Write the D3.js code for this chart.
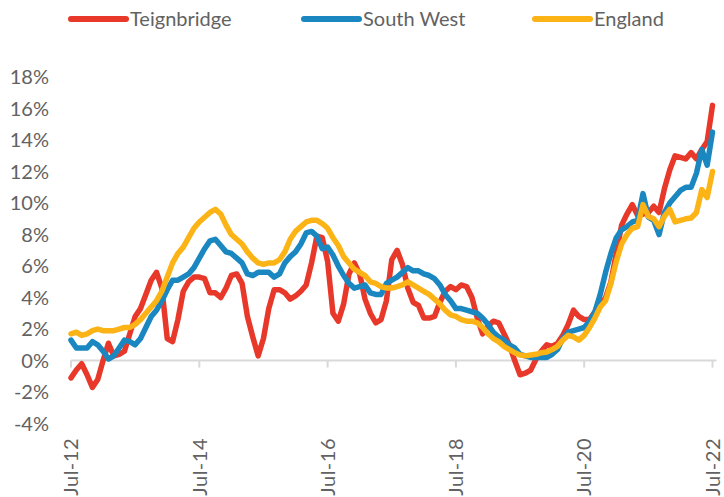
<!DOCTYPE html>
<html>
<head>
<meta charset="utf-8">
<script src="https://cdn.jsdelivr.net/npm/d3@7"></script>
<style>
  body { margin: 0; background: #fff; }
  svg { font-family: Lato, "Open Sans", sans-serif; }
</style>
</head>
<body>
<div id="chart"></div>
<script>
// monthly annual change, Jul-12 .. Jul-22 (121 months)
const tickLabels = ["Jul-12", "Jul-14", "Jul-16", "Jul-18", "Jul-20", "Jul-22"];
const tickIndex = [0, 24, 48, 72, 96, 120];
const yTicks = [-4, -2, 0, 2, 4, 6, 8, 10, 12, 14, 16, 18];

const teignbridge = [
  -1.1, -0.6, -0.2, -0.9, -1.7, -1.2, 0.0, 1.1, 0.3, 0.4, 0.6, 1.7,
  2.8, 3.3, 4.2, 5.1, 5.6, 4.6, 1.4, 1.2, 2.6, 4.4, 5.0, 5.3,
  5.3, 5.2, 4.3, 4.3, 4.0, 4.6, 5.4, 5.5, 4.9, 2.8, 1.5, 0.3,
  1.4, 3.3, 4.5, 4.5, 4.3, 3.9, 4.1, 4.4, 4.8, 6.2, 7.9, 7.8,
  6.3, 3.0, 2.5, 3.6, 5.5, 6.2, 5.5, 3.9, 3.0, 2.4, 2.6, 3.8,
  6.4, 7.0, 6.1, 4.6, 3.7, 3.5, 2.7, 2.7, 2.8, 3.7, 4.4, 4.7,
  4.5, 4.8, 4.7, 4.0, 2.7, 1.7, 2.2, 2.5, 2.4, 1.7, 1.0, 0.0,
  -0.9, -0.8, -0.6, 0.1, 0.6, 1.0, 0.9, 1.1, 1.6, 2.3, 3.2, 2.8,
  2.6, 2.6, 3.1, 3.5, 4.0, 5.0, 6.8, 8.6, 9.3, 9.9, 9.2, 9.3,
  9.4, 9.8, 9.4, 10.9, 12.1, 13.0, 12.9, 12.8, 13.2, 12.8, 13.4, 13.9,
  16.2
];

const southWest = [
  1.3, 0.8, 0.8, 0.8, 1.2, 1.0, 0.6, 0.1, 0.3, 0.8, 1.3, 1.2,
  1.0, 1.4, 2.1, 2.8, 3.2, 3.8, 4.5, 5.1, 5.1, 5.3, 5.5, 5.9,
  6.5, 7.1, 7.6, 7.7, 7.3, 6.9, 6.8, 6.5, 6.2, 5.5, 5.4, 5.6,
  5.6, 5.6, 5.3, 5.5, 6.2, 6.6, 6.9, 7.4, 8.1, 8.2, 7.9, 7.1,
  7.2, 6.7, 6.0, 5.4, 4.9, 4.6, 4.7, 4.8, 4.3, 4.2, 4.2, 4.9,
  5.1, 5.3, 5.6, 5.9, 5.7, 5.7, 5.5, 5.4, 5.2, 4.8, 4.2, 3.8,
  3.3, 3.3, 3.2, 3.1, 3.0, 2.7, 2.3, 1.8, 1.5, 1.3, 1.0, 0.8,
  0.4, 0.3, 0.2, 0.2, 0.2, 0.2, 0.4, 0.7, 1.4, 1.8, 1.9, 2.0,
  2.1, 2.5, 3.1, 4.2, 5.6, 6.8, 7.8, 8.3, 8.5, 8.8, 8.9, 10.6,
  9.1, 8.9, 8.0, 9.4, 10.0, 10.4, 10.8, 11.0, 11.0, 11.9, 13.4, 12.4,
  14.5
];

const england = [
  1.7, 1.8, 1.6, 1.7, 1.9, 2.0, 1.9, 1.9, 1.9, 2.0, 2.1, 2.1,
  2.3, 2.6, 3.0, 3.4, 3.8, 4.4, 5.3, 6.2, 6.8, 7.2, 7.8, 8.4,
  8.8, 9.1, 9.4, 9.6, 9.3, 8.6, 8.0, 7.7, 7.4, 6.9, 6.5, 6.2,
  6.1, 6.2, 6.2, 6.4, 6.9, 7.7, 8.2, 8.5, 8.8, 8.9, 8.9, 8.7,
  8.4, 7.8, 7.3, 6.6, 6.2, 5.8, 5.6, 5.4, 5.0, 4.9, 4.7, 4.6,
  4.6, 4.7, 4.8, 5.0, 4.8, 4.6, 4.4, 4.2, 3.9, 3.6, 3.2, 2.9,
  2.8, 2.6, 2.5, 2.5, 2.4, 2.1, 1.7, 1.4, 1.2, 0.9, 0.7, 0.5,
  0.35, 0.3, 0.35, 0.4, 0.5, 0.55, 0.7, 0.9, 1.3, 1.6, 1.5, 1.3,
  1.6, 2.1, 2.7, 3.4, 3.8, 4.9, 6.3, 7.4, 8.0, 8.4, 8.5, 9.9,
  9.15, 9.0, 8.5, 9.15, 9.6, 8.8, 8.9, 9.0, 9.05, 9.4, 10.85, 10.35,
  12.0
];

const seriesNames = ["Teignbridge", "South West", "England"];
const seriesColors = ["#e8382a", "#1a87c0", "#fbb316"];
const seriesData = [teignbridge, southWest, england];

const W = 724, H = 497;
const x = d3.scaleLinear().domain([0, 120]).range([71, 712.5]);
const y = d3.scaleLinear().domain([-4, 18]).range([423.6, 77]);

const svg = d3.select("#chart")
  .append("svg")
    .attr("width", W)
    .attr("height", H);

// y labels (no gridlines)
svg.append("g")
  .selectAll("text")
  .data(yTicks)
  .join("text")
    .attr("x", 49)
    .attr("y", d => y(d))
    .attr("dy", "0.36em")
    .attr("text-anchor", "end")
    .attr("font-size", "20px")
    .attr("fill", "#626262")
    .text(d => d + "%");

// horizontal axis at 0
svg.append("line")
  .attr("x1", x(0))
  .attr("x2", x(120) + 4)
  .attr("y1", y(0))
  .attr("y2", y(0))
  .attr("stroke", "#d9d9d9")
  .attr("stroke-width", 2);

svg.append("g")
  .selectAll("line")
  .data(tickIndex)
  .join("line")
    .attr("x1", d => x(d))
    .attr("x2", d => x(d))
    .attr("y1", y(0))
    .attr("y2", y(0) + 7)
    .attr("stroke", "#d9d9d9")
    .attr("stroke-width", 2);

// x labels, rotated, sitting below the plot
svg.append("g")
  .selectAll("text")
  .data(tickIndex)
  .join("text")
    .attr("transform", d => `translate(${x(d)}, 438) rotate(-90)`)
    .attr("dy", "0.36em")
    .attr("text-anchor", "end")
    .attr("font-size", "20px")
    .attr("letter-spacing", "0.5px")
    .attr("fill", "#626262")
    .text((d, i) => tickLabels[i]);

// lines
const line = d3.line()
  .x((d, i) => x(i))
  .y(d => y(d));

svg.append("g")
  .selectAll("path")
  .data(seriesData)
  .join("path")
    .attr("d", d => line(d))
    .attr("fill", "none")
    .attr("stroke", (d, i) => seriesColors[i])
    .attr("stroke-width", 5.5)
    .attr("stroke-linejoin", "round")
    .attr("stroke-linecap", "round");

// legend
const legendX = [71, 304, 535];
const legend = svg.append("g")
  .selectAll("g")
  .data(seriesNames)
  .join("g")
    .attr("transform", (d, i) => `translate(${legendX[i]}, 19)`);

legend.append("line")
  .attr("x1", 0)
  .attr("x2", 55)
  .attr("stroke", (d, i) => seriesColors[i])
  .attr("stroke-width", 6)
  .attr("stroke-linecap", "round");

legend.append("text")
  .attr("x", 59)
  .attr("dy", "0.36em")
  .attr("font-size", "20px")
  .attr("fill", "#626262")
  .text(d => d);
</script>
</body>
</html>
